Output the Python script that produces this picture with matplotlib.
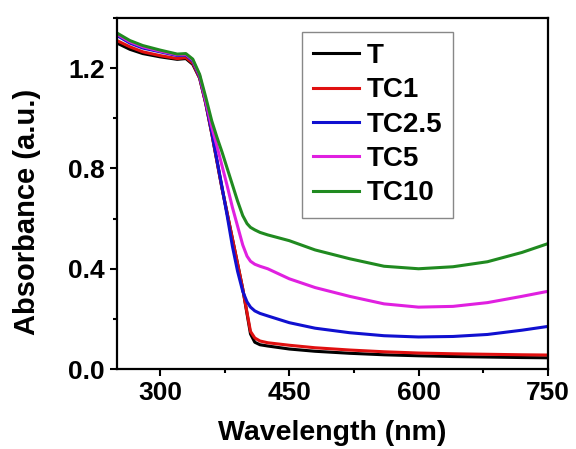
import numpy as np
import matplotlib
matplotlib.use('Agg')
import matplotlib.pyplot as plt
from matplotlib.ticker import MultipleLocator

# Du lieu doc tu hinh (UV-Vis absorbance)
wl = [250, 265, 280, 300, 320, 330, 338, 346, 353, 360, 366, 372, 378, 384, 390, 396, 401, 405, 410, 416, 425,
      450, 480, 520, 560, 600, 640, 680, 720, 750]

abs_T = [1.30, 1.275, 1.258, 1.245, 1.235, 1.238, 1.215, 1.16, 1.06, 0.94, 0.83, 0.72, 0.62, 0.52, 0.42, 0.32, 0.22, 0.14, 0.107, 0.097, 0.092,
         0.080, 0.071, 0.063, 0.057, 0.053, 0.050, 0.048, 0.046, 0.045]
abs_TC1 = [1.31, 1.285, 1.265, 1.25, 1.238, 1.242, 1.22, 1.16, 1.06, 0.94, 0.83, 0.72, 0.62, 0.52, 0.42, 0.32, 0.225, 0.15, 0.124, 0.112, 0.105,
           0.095, 0.085, 0.076, 0.069, 0.064, 0.061, 0.059, 0.057, 0.056]
abs_TC25 = [1.33, 1.30, 1.28, 1.265, 1.25, 1.252, 1.228, 1.165, 1.065, 0.945, 0.835, 0.725, 0.61, 0.49, 0.39, 0.31, 0.268, 0.247, 0.232, 0.222, 0.212,
            0.185, 0.163, 0.145, 0.133, 0.128, 0.130, 0.138, 0.155, 0.17]
abs_TC5 = [1.335, 1.305, 1.285, 1.268, 1.253, 1.255, 1.232, 1.17, 1.07, 0.965, 0.89, 0.81, 0.73, 0.645, 0.57, 0.495, 0.45, 0.43, 0.418, 0.41, 0.40,
           0.36, 0.325, 0.29, 0.26, 0.247, 0.25, 0.265, 0.29, 0.31]
abs_TC10 = [1.34, 1.31, 1.29, 1.272, 1.256, 1.258, 1.236, 1.175, 1.085, 0.99, 0.925, 0.865, 0.80, 0.735, 0.67, 0.612, 0.58, 0.565, 0.555, 0.545, 0.535,
            0.512, 0.475, 0.44, 0.41, 0.40, 0.408, 0.428, 0.465, 0.50]

labels = ['T', 'TC1', 'TC2.5', 'TC5', 'TC10']
colors = ['#000000', '#e01010', '#1010d0', '#e020e0', '#208a20']
series = [abs_T, abs_TC1, abs_TC25, abs_TC5, abs_TC10]

plt.rcParams['font.family'] = ['Liberation Sans', 'DejaVu Sans']
plt.rcParams['font.weight'] = 'bold'

fig = plt.figure(figsize=(5.76, 4.49), dpi=100)
ax = fig.add_axes([0.203, 0.178, 0.748, 0.782])

for y, c, lab in zip(series, colors, labels):
    ax.plot(wl, y, color=c, lw=2.2, label=lab)

ax.set_xlim(250, 750)
ax.set_ylim(0, 1.4)
ax.set_xticks([300, 450, 600, 750])
ax.xaxis.set_minor_locator(MultipleLocator(75))
ax.yaxis.set_major_locator(MultipleLocator(0.4))
ax.yaxis.set_minor_locator(MultipleLocator(0.2))
ax.tick_params(which='major', direction='out', length=5, width=1.5, labelsize=19)
ax.tick_params(which='minor', direction='out', length=3, width=1.5)
for s in ax.spines.values():
    s.set_linewidth(1.6)

ax.set_xlabel('Wavelength (nm)', fontsize=20.5, fontweight='bold')
ax.set_ylabel('Absorbance (a.u.)', fontsize=21, fontweight='bold')
ax.xaxis.set_label_coords(0.5, -0.145)
ax.yaxis.set_label_coords(-0.177, 0.447)

leg = ax.legend(loc='upper right', bbox_to_anchor=(0.78, 0.96), borderaxespad=0,
                fontsize=20, handlelength=1.65, handletextpad=0.25, labelspacing=0.3,
                fancybox=False, framealpha=1, edgecolor='#888888')
leg.get_frame().set_linewidth(1.0)

plt.savefig('out.png', dpi=100)
plt.close()
